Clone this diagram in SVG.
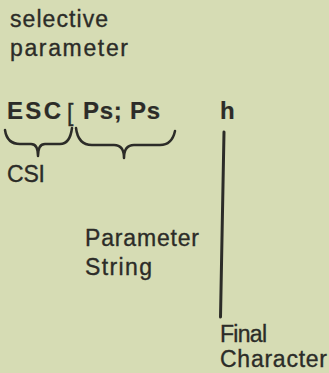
<svg xmlns="http://www.w3.org/2000/svg" width="329" height="373" viewBox="0 0 329 373">
<style>
text{font-family:"Liberation Sans",Arial,sans-serif;font-size:23px;fill:#2c2c28;stroke:#2c2c28;stroke-width:0.35px}
.b{font-weight:bold;font-size:24px;stroke-width:0.2px}
.c{fill:none;stroke:#2c2c28;stroke-linecap:round;stroke-linejoin:round}
</style>
<rect width="329" height="373" fill="#d6dcb4"/>
<g id="title">
<text x="10" y="27" textLength="98" lengthAdjust="spacing">selective</text>
<text x="10" y="56" textLength="118" lengthAdjust="spacing">parameter</text>
</g>
<g id="sequence">
<text class="b" x="7" y="119" textLength="54" lengthAdjust="spacing">ESC</text>
<text x="67" y="121">[</text>
<text class="b" x="83" y="119" textLength="77" lengthAdjust="spacing">Ps; Ps</text>
<text class="b" x="220" y="119">h</text>
</g>
<g id="csi"><text x="7" y="182" textLength="38" lengthAdjust="spacing">CSI</text></g>
<g id="param-string">
<text x="85" y="246" textLength="114" lengthAdjust="spacing">Parameter</text>
<text x="85" y="275" textLength="67" lengthAdjust="spacing">String</text>
</g>
<g id="final-char">
<text x="220" y="342" textLength="47" lengthAdjust="spacing">Final</text>
<text x="220" y="367" textLength="107" lengthAdjust="spacing">Character</text>
</g>
<g id="connectors">
<path class="c" stroke-width="2.5" d="M5,130 Q7,144 20,144 L31,144 Q38,144 38,156 Q38,144 45,144 L60,144 Q70,144 72,128"/>
<path class="c" stroke-width="2.5" d="M76,128 Q78,145 92,145 L114,145 Q124,145 124,158 Q124,145 134,145 L160,145 Q172,145 175,131"/>
<path class="c" stroke-width="3" d="M224,132 L220.5,317"/>
</g>
</svg>
